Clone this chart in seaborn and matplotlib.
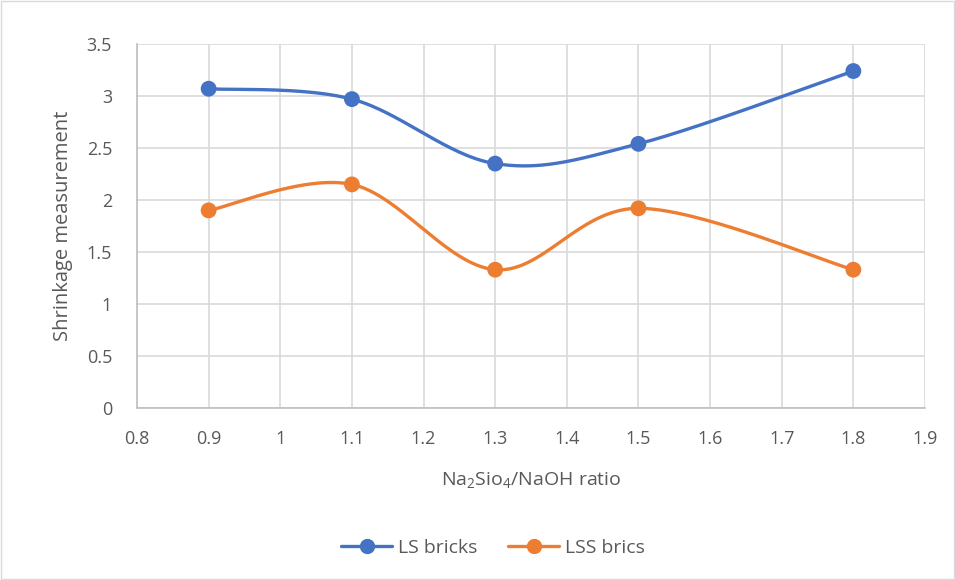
import numpy as np
import pandas as pd
import matplotlib
matplotlib.use("Agg")
import matplotlib.pyplot as plt
from matplotlib.lines import Line2D
import seaborn as sns

# Measured values
ratio = [0.9, 1.1, 1.3, 1.5, 1.8]
ls_bricks = [3.07, 2.97, 2.35, 2.54, 3.24]
lss_brics = [1.90, 2.15, 1.33, 1.92, 1.33]
series_names = ["LS bricks", "LSS brics"]
colors = ["#4472C4", "#ED7D31"]
x_ticks = [0.8, 0.9, 1.0, 1.1, 1.2, 1.3, 1.4, 1.5, 1.6, 1.7, 1.8, 1.9]
y_ticks = [0, 0.5, 1, 1.5, 2, 2.5, 3, 3.5]


def smooth_curve(xs, ys, n=60):
    """Bezier smoothing through every point (Catmull-Rom style tangents)."""
    xs = np.asarray(xs, float)
    ys = np.asarray(ys, float)
    pts = np.column_stack([xs, ys])
    padded = np.vstack([pts[0], pts, pts[-1]])
    out = []
    t = np.linspace(0, 1, n)[:, None]
    for i in range(len(pts) - 1):
        p0, p1, p2, p3 = padded[i], padded[i + 1], padded[i + 2], padded[i + 3]
        c1 = p1 + (p2 - p0) / 6.0
        c2 = p2 - (p3 - p1) / 6.0
        seg = ((1 - t) ** 3) * p1 + 3 * ((1 - t) ** 2) * t * c1 + 3 * (1 - t) * t ** 2 * c2 + t ** 3 * p2
        out.append(seg if i == 0 else seg[1:])
    seg = np.vstack(out)
    return seg[:, 0], seg[:, 1]


sns.set_theme(style="white")
plt.rcParams["font.family"] = ["Open Sans", "DejaVu Sans"]
plt.rcParams["mathtext.default"] = "regular"

fig = plt.figure(figsize=(9.55, 5.8), dpi=100)
ax = fig.add_axes([137 / 955, 1 - 408 / 580, (925 - 137) / 955, (408 - 44) / 580])

frames = []
points = []
for name, vals in zip(series_names, [ls_bricks, lss_brics]):
    sx, sy = smooth_curve(ratio, vals)
    frames.append(pd.DataFrame({"x": sx, "y": sy, "series": name}))
    points.append(pd.DataFrame({"x": ratio, "y": vals, "series": name}))
curve_df = pd.concat(frames, ignore_index=True)
point_df = pd.concat(points, ignore_index=True)

palette = dict(zip(series_names, colors))
sns.lineplot(data=curve_df, x="x", y="y", hue="series", palette=palette,
             sort=False, estimator=None, units="series", linewidth=2.4,
             legend=False, ax=ax, zorder=3)
sns.scatterplot(data=point_df, x="x", y="y", hue="series", palette=palette,
                s=130, edgecolor="none", legend=False, ax=ax, zorder=4)

ax.set_xlim(0.8, 1.9)
ax.set_ylim(0, 3.5)
ax.set_xticks(x_ticks)
ax.set_xticklabels([f"{v:g}" for v in x_ticks])
ax.set_yticks(y_ticks)
ax.set_yticklabels([f"{v:g}" for v in y_ticks])
ax.grid(True, color="#D9D9D9", linewidth=1.2)
ax.set_axisbelow(True)
for side in ["top", "right"]:
    ax.spines[side].set_visible(False)
for side in ["left", "bottom"]:
    ax.spines[side].set_color("#BFBFBF")
    ax.spines[side].set_linewidth(1.2)
ax.tick_params(axis="both", colors="#595959", labelsize=13, length=0)
ax.tick_params(axis="x", pad=16)
ax.tick_params(axis="y", pad=18)

ax.set_xlabel(r"Na$_2$Sio$_4$/NaOH ratio", fontsize=14, color="#595959", labelpad=16)
ax.set_ylabel("Shrinkage measurement", fontsize=14.5, color="#595959", labelpad=10)

handles = [Line2D([0], [0], color=c, linewidth=2.4, marker="o", markersize=10)
           for c in colors]
fig.legend(handles, series_names, loc="center", bbox_to_anchor=(493 / 955, 1 - 548 / 580),
           ncol=2, frameon=False, fontsize=14, labelcolor="#595959",
           handlelength=2.6, columnspacing=1.6, handletextpad=0.3)

# outer chart border
fig.patches.append(plt.Rectangle((0.001, 0.001), 0.998, 0.998, transform=fig.transFigure,
                                 fill=False, edgecolor="#D9D9D9", linewidth=1.0))

fig.savefig("out.png", dpi=100, facecolor="white")
